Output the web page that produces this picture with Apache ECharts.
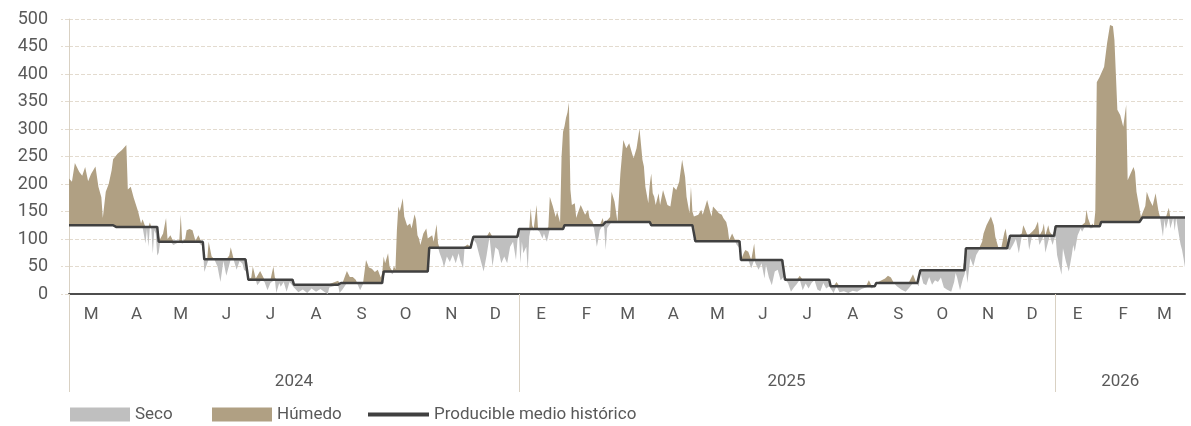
<!DOCTYPE html>
<html>
<head>
<meta charset="utf-8">
<script src="https://cdn.jsdelivr.net/npm/echarts@6/dist/echarts.min.js"></script>
<style>
  html, body { margin: 0; padding: 0; background: #fff; }
  #chart { width: 1191px; height: 426px; }
</style>
</head>
<body>
<div id="chart"></div>
<script>
// meses del eje (inicio marzo 2024) y letra de cada mes
const firstMonth = [2024, 3];
const lastDay = "2026-03-30";
const monthLetters = ["E", "F", "M", "A", "M", "J", "J", "A", "S", "O", "N", "D"];

// producible medio histórico por mes (mar-24 ... mar-26)
const historico = [125, 122, 95, 63, 26, 17, 20, 41, 84, 104,
  118, 125, 131, 125, 96, 62, 26, 14, 20, 43, 83, 106,
  123, 131, 139];

// producible real: por mes, pares [día, valor]
const real2024 = [
  [[1,210],[3,204],[5,238],[8,222],[10,215],[12,231],[14,205],[16,218],[19,232],[21,195],[23,176],[24,138],[26,186],[28,200],[30,225],[31,245]],
  [[1,248],[3,255],[6,262],[9,271],[10,190],[12,195],[14,175],[17,150],[19,128],[20,136],[22,92],[23,118],[24,86],[25,130],[26,118],[27,73],[28,116],[29,110],[30,70]],
  [[1,75],[2,95],[4,110],[6,138],[7,100],[9,107],[11,89],[13,92],[15,96],[16,144],[17,92],[19,100],[20,116],[22,118],[24,116],[26,97],[28,107],[30,88],[31,93]],
  [[1,40],[3,60],[4,95],[6,68],[8,62],[10,50],[12,22],[14,60],[16,33],[18,70],[19,85],[21,62],[23,44],[25,60],[27,55],[28,44],[30,40]],
  [[1,26],[3,30],[4,50],[6,28],[7,16],[9,42],[10,40],[12,22],[14,7],[16,20],[18,50],[19,30],[20,2],[22,20],[23,13],[25,22],[27,4],[29,22],[31,10]],
  [[1,12],[4,3],[7,8],[10,2],[13,10],[16,4],[19,9],[22,3],[24,0],[25,12],[27,20],[28,14],[31,24]],
  [[1,2],[3,8],[6,42],[8,31],[10,31],[12,26],[13,19],[15,7],[17,18],[19,62],[21,48],[23,46],[25,40],[27,44],[29,30],[30,38]],
  [[1,68],[2,56],[4,74],[5,50],[7,36],[8,51],[9,45],[10,116],[11,159],[12,150],[14,174],[15,141],[17,124],[19,128],[20,119],[22,145],[23,135],[24,107],[25,101],[26,89],[28,110],[30,119],[31,101]],
  [[1,100],[3,107],[4,95],[6,127],[7,92],[8,75],[10,60],[11,48],[13,68],[15,58],[17,71],[19,56],[21,74],[22,62],[24,47],[25,83],[27,90],[29,86],[30,82]],
  [[1,100],[3,92],[5,71],[8,41],[10,70],[12,113],[14,50],[16,85],[18,80],[20,56],[22,68],[24,56],[26,86],[28,95],[30,62],[31,98]]
];
const real2025 = [
  [[1,110],[2,56],[3,95],[4,74],[6,86],[7,44],[8,104],[9,156],[10,125],[11,116],[13,162],[14,116],[15,113],[17,101],[18,110],[20,95],[21,122],[22,177],[24,160],[26,140],[27,150],[29,130],[30,250],[31,295]],
  [[1,305],[2,320],[3,330],[4,348],[5,190],[6,162],[8,165],[9,138],[10,147],[12,162],[13,156],[15,144],[17,153],[18,138],[20,132],[21,120],[22,89],[23,86],[24,100],[25,116],[26,125],[27,138],[28,120]],
  [[1,80],[2,120],[4,140],[5,186],[7,168],[8,150],[9,131],[11,219],[13,280],[15,265],[17,274],[19,255],[20,247],[22,265],[24,301],[26,244],[27,232],[28,195],[30,165],[31,200]],
  [[1,219],[2,183],[3,177],[4,162],[6,183],[7,162],[9,189],[11,171],[12,162],[14,159],[16,195],[18,189],[20,204],[22,244],[24,213],[25,177],[27,147],[28,195],[29,150],[30,141]],
  [[1,141],[3,144],[5,153],[6,144],[8,162],[9,171],[11,150],[12,141],[13,159],[15,153],[17,147],[19,144],[20,138],[22,131],[23,119],[24,98],[25,101],[26,110],[27,113],[28,98],[29,90],[31,83]],
  [[1,62],[3,75],[4,80],[6,77],[8,47],[10,92],[11,55],[13,44],[15,56],[17,28],[18,53],[20,30],[22,16],[24,41],[26,44],[28,25],[30,31]],
  [[1,30],[3,20],[5,4],[7,12],[9,18],[11,33],[13,7],[15,19],[17,10],[19,20],[21,25],[23,8],[25,5],[27,20],[29,10],[31,14]],
  [[1,10],[3,2],[5,22],[7,3],[10,5],[13,2],[16,6],[19,4],[22,9],[25,12],[27,25],[29,10],[31,16]],
  [[1,18],[4,24],[7,28],[9,33],[11,30],[13,20],[15,14],[18,8],[21,4],[23,10],[26,36],[28,22],[30,14]],
  [[1,40],[3,19],[5,16],[7,31],[9,17],[11,25],[13,22],[15,30],[17,12],[19,8],[22,4],[24,22],[25,38],[26,30],[28,7],[30,28],[31,35]],
  [[1,47],[2,20],[4,65],[6,50],[8,71],[10,80],[12,95],[13,110],[15,125],[18,141],[20,125],[21,104],[23,85],[25,83],[27,110],[28,119],[30,80]],
  [[1,80],[3,89],[5,100],[7,74],[9,110],[10,125],[11,119],[13,104],[14,80],[16,113],[18,119],[20,132],[21,89],[23,116],[24,128],[25,75],[27,125],[28,113],[30,89],[31,100]]
];
const real2026 = [
  [[1,104],[2,71],[4,47],[5,35],[6,83],[8,59],[10,41],[12,71],[13,89],[14,77],[16,107],[18,119],[19,113],[21,130],[22,153],[23,138],[25,119],[26,128],[27,122],[28,150],[29,385],[31,395]],
  [[1,398],[3,413],[5,456],[7,489],[9,487],[10,462],[12,335],[14,325],[16,304],[18,344],[19,207],[21,219],[23,231],[24,222],[25,186],[27,156],[28,140]],
  [[1,139],[3,160],[4,186],[6,171],[8,160],[10,183],[12,150],[13,140],[15,104],[16,135],[17,118],[19,157],[20,119],[22,138],[23,115],[24,140],[26,105],[27,90],[28,80],[29,65],[30,48]]
];

// ---- construir ejes diarios y series
const DAY = 86400000;
const t0 = Date.UTC(firstMonth[0], firstMonth[1] - 1, 1);
const tEnd = Date.parse(lastDay + "T00:00:00Z");
const days = [];
for (let t = t0; t <= tEnd; t += DAY) days.push(new Date(t));
const cats = days.map((d) => d.toISOString().slice(0, 10));
const dayIndex = (y, m, d) => Math.round((Date.UTC(y, m - 1, d) - t0) / DAY);
const monthPos = (d) => (d.getUTCFullYear() - firstMonth[0]) * 12 + d.getUTCMonth() + 1 - firstMonth[1];

const histDaily = days.map((d, i) => [i, historico[monthPos(d)]]);

const base = [], seco = [], humedo = [];
[real2024, real2025, real2026].flat().forEach((pairs, k) => {
  const y = firstMonth[0] + Math.floor((firstMonth[1] - 1 + k) / 12);
  const m = ((firstMonth[1] - 1 + k) % 12) + 1;
  const h = historico[k];
  pairs.forEach(([d, v]) => {
    const i = dayIndex(y, m, d);
    base.push([i, Math.min(v, h)]);
    seco.push([i, Math.max(0, h - v)]);
    humedo.push([i, Math.max(0, v - h)]);
  });
});

// posiciones de años (inicio de año y centro del tramo)
const yearStart = new Set([0]);
const yearMid = {};
const yearsSeen = {};
days.forEach((d, i) => {
  const y = d.getUTCFullYear();
  if (!(y in yearsSeen)) yearsSeen[y] = [i, i];
  yearsSeen[y][1] = i;
  if (d.getUTCMonth() === 0 && d.getUTCDate() === 1) yearStart.add(i);
});
Object.keys(yearsSeen).forEach((y) => {
  yearMid[Math.round((yearsSeen[y][0] + yearsSeen[y][1]) / 2)] = y;
});

const txt = "#595959";
const font = "Roboto";
const legendText = { color: txt, fontSize: 17, fontFamily: font };

const chart = echarts.init(document.getElementById("chart"));
chart.setOption({
  animation: false,
  textStyle: { fontFamily: font },
  grid: { left: 69, right: 6, top: 19, bottom: 132 },
  xAxis: [
    {
      type: "category",
      data: cats,
      boundaryGap: false,
      axisLine: { lineStyle: { color: "#4d4d4d", width: 2 } },
      axisTick: {
        show: true,
        interval: (i) => yearStart.has(i),
        length: 98,
        lineStyle: { color: "#d9d1c3", width: 1 },
      },
      axisLabel: {
        interval: (i) => days[i].getUTCDate() === 16,
        formatter: (v) => monthLetters[Number(v.slice(5, 7)) - 1],
        color: txt,
        fontSize: 17,
        fontFamily: font,
        margin: 12,
      },
      splitLine: { show: false },
    },
    {
      type: "category",
      data: cats,
      position: "bottom",
      boundaryGap: false,
      axisLine: { show: false },
      axisTick: { show: false },
      axisLabel: {
        interval: (i) => i in yearMid,
        formatter: (v) => v.slice(0, 4),
        color: txt,
        fontSize: 17,
        fontFamily: font,
        margin: 79,
      },
    },
  ],
  yAxis: {
    type: "value",
    min: 0,
    max: 500,
    interval: 50,
    axisLine: { show: true, lineStyle: { color: "#d9d1c3" } },
    axisTick: { show: true, length: 8, lineStyle: { color: "#e3dbcf", type: "dashed" } },
    axisLabel: { color: txt, fontSize: 18, fontFamily: font, margin: 21 },
    splitLine: { lineStyle: { color: "#e3dbcf", type: "dashed" } },
  },
  legend: [
    {
      data: ["Seco"], left: 70, top: 406, padding: 0, icon: "rect",
      itemWidth: 60, itemHeight: 14, itemGap: 0,
      textStyle: legendText,
    },
    {
      data: ["Húmedo"], left: 212, top: 406, padding: 0, icon: "rect",
      itemWidth: 60, itemHeight: 14, itemGap: 0,
      textStyle: legendText,
    },
    {
      data: ["Producible medio histórico"], left: 368, top: 406, padding: 0,
      icon: "path://M0,5 L60,5 L60,9 L0,9 Z",
      itemWidth: 61, itemHeight: 14, itemGap: 0,
      textStyle: legendText,
    },
  ],
  series: [
    {
      name: "base", type: "line", stack: "p", data: base,
      symbol: "none", silent: true,
      lineStyle: { width: 0 }, itemStyle: { color: "transparent" },
    },
    {
      name: "Seco", type: "line", stack: "p", data: seco,
      symbol: "none",
      lineStyle: { width: 0 },
      itemStyle: { color: "#bfbfbf" },
      areaStyle: { color: "#bfbfbf", opacity: 1 },
    },
    {
      name: "Húmedo", type: "line", stack: "p", data: humedo,
      symbol: "none",
      lineStyle: { width: 0 },
      itemStyle: { color: "#b0a083" },
      areaStyle: { color: "#b0a083", opacity: 1 },
    },
    {
      name: "Producible medio histórico", type: "line", data: histDaily,
      symbol: "none",
      lineStyle: { color: "#404040", width: 2.5 },
      itemStyle: { color: "#404040" },
      z: 5,
    },
  ],
});
</script>
</body>
</html>
